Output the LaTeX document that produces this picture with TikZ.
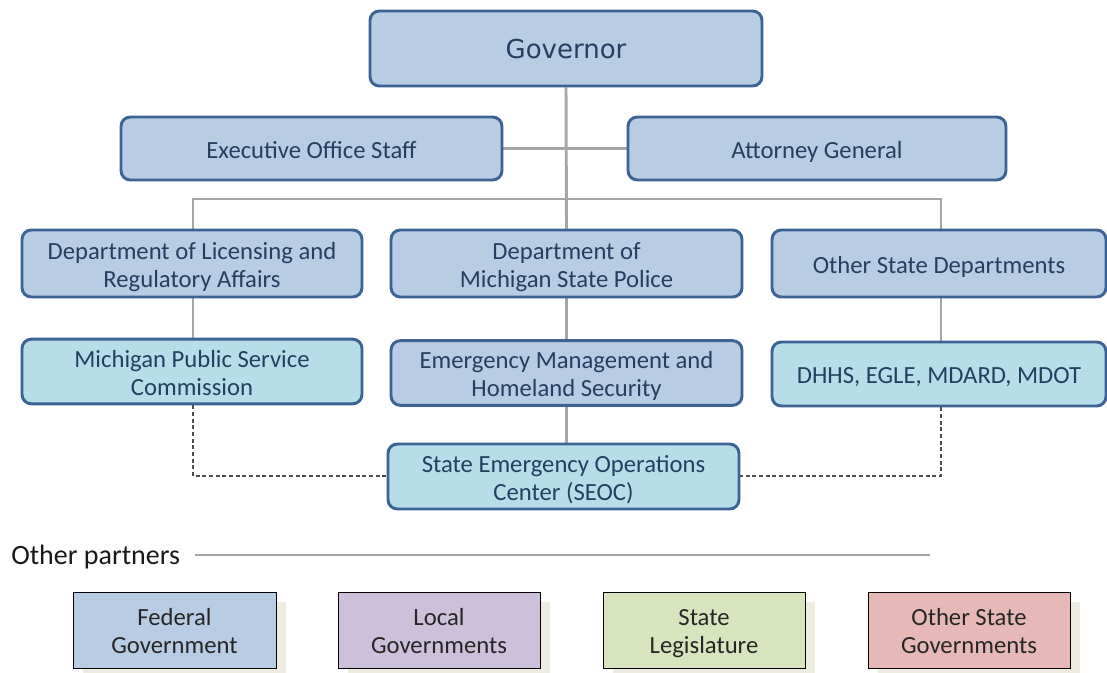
\documentclass[tikz,border=0pt]{standalone}
\usepackage{fontspec}
\usetikzlibrary{backgrounds}
\setmainfont{Carlito}
\newfontfamily\govfont{DejaVu Sans}
\definecolor{boxblue}{HTML}{B8CCE4}
\definecolor{boxcyan}{HTML}{B7DDE8}
\definecolor{boxedge}{HTML}{3C6393}
\definecolor{txtblue}{HTML}{243F60}
\definecolor{linegray}{HTML}{A6A6A6}
\definecolor{shadowc}{HTML}{EEECE1}
\definecolor{fedc}{HTML}{B8CCE4}
\definecolor{locc}{HTML}{CCC0DA}
\definecolor{legc}{HTML}{D7E4BD}
\definecolor{othc}{HTML}{E6B9B8}
\newcommand{\obox}[7]{\node[#1,minimum width={(#4-#2)*0.75pt},minimum height={(#5-#3)*0.75pt}] (#6) at ({(#2+#4)/2},{(#3+#5)/2}) {#7};}
\newcommand{\ml}[1]{\raisebox{0pt}[\dimexpr\height+6.5pt\relax][\depth]{\begin{tabular}{@{}c@{}}#1\end{tabular}}}
\begin{document}
\begin{tikzpicture}[x=0.75pt,y=-0.75pt,
  orgbox/.style={draw=boxedge,line width=2.2pt,rounded corners=7pt,
    text=txtblue,font=\fontsize{18.5}{21}\selectfont,inner sep=0pt},
  bluebox/.style={orgbox,fill=boxblue},
  cyanbox/.style={orgbox,fill=boxcyan},
  tree/.style={draw=linegray,line width=2.2pt},
  dotline/.style={draw=black!70,line width=0.8pt,dash pattern=on 3pt off 2pt},
  partner/.style={draw=black,line width=0.7pt,inner sep=0pt,
    font=\fontsize{18.5}{21}\selectfont,text=black!85}
]
\useasboundingbox (0,0) rectangle (1107,673);
\coordinate (hl) at (193,199);
\coordinate (hr) at (941,199);
% nodes
\obox{bluebox}{370}{11}{762}{86}{gov}{\ml{\govfont\fontsize{19.5}{22}\selectfont Governor}}
\obox{bluebox}{121}{117}{502}{180}{eos}{\ml{Executive Office Staff}}
\obox{bluebox}{628}{117}{1006}{180}{ag}{\ml{Attorney General}}
\obox{bluebox}{22}{230}{362}{297}{lara}{\ml{Department of Licensing and\\Regulatory Affairs}}
\obox{bluebox}{391}{230}{742}{297}{msp}{\ml{Department of\\Michigan State Police}}
\obox{bluebox}{772}{230}{1106}{297}{osd}{\ml{Other State Departments}}
\obox{cyanbox}{22}{340}{362}{403}{mpsc}{\ml{Michigan Public Service\\Commission}}
\obox{bluebox}{391}{341}{742}{405}{emhs}{\ml{Emergency Management and\\Homeland Security}}
\obox{cyanbox}{772}{342}{1106}{406}{dhhs}{\ml{DHHS, EGLE, MDARD, MDOT}}
\obox{cyanbox}{388}{444}{739}{509}{seoc}{\ml{State Emergency Operations\\Center (SEOC)}}
% connectors
\begin{scope}[on background layer]
\draw[tree] (gov.south) -- (msp.north);
\draw[tree] (eos.east) -- (ag.west);
\draw[tree] (hl |- lara.north) -- (hl) -- (hr) -- (hr |- osd.north);
\draw[tree] (hl |- lara.south) -- (hl |- mpsc.north);
\draw[tree] (msp.south) -- (emhs.north);
\draw[tree] (hr |- osd.south) -- (hr |- dhhs.north);
\draw[tree] (emhs.south) -- (emhs.south |- seoc.north);
\coordinate (dl) at (193,476);
\coordinate (dr) at (941,476);
\draw[dotline] (dl |- mpsc.south) -- (dl) -- (seoc.west |- dl);
\draw[dotline] (dr |- dhhs.south) -- (dr) -- (seoc.east |- dr);
\end{scope}
% other partners
\node[anchor=west,inner sep=0pt,font=\fontsize{21}{24}\selectfont,text=black!90] (op) at (11,557) {Other partners};
\coordinate (opend) at (930,555);
\draw[draw=linegray,line width=1.2pt] ([xshift=11pt]op.east |- opend) -- (opend);
% partner boxes with shadows
\foreach \xa/\xb/\c/\nm/\t in {73/276/fedc/fed/{Federal\\Government},338/540/locc/loc/{Local\\Governments},603/805/legc/leg/{State\\Legislature},868/1070/othc/oth/{Other State\\Governments}}{
  \fill[shadowc] (\xa+10,602) rectangle (\xb+10,675);
  \node[partner,fill=\c,minimum width={(\xb-\xa)*0.75pt},minimum height={76*0.75pt}] (\nm) at ({(\xa+\xb)/2},630) {\ml{\t}};
}
\end{tikzpicture}
\end{document}
